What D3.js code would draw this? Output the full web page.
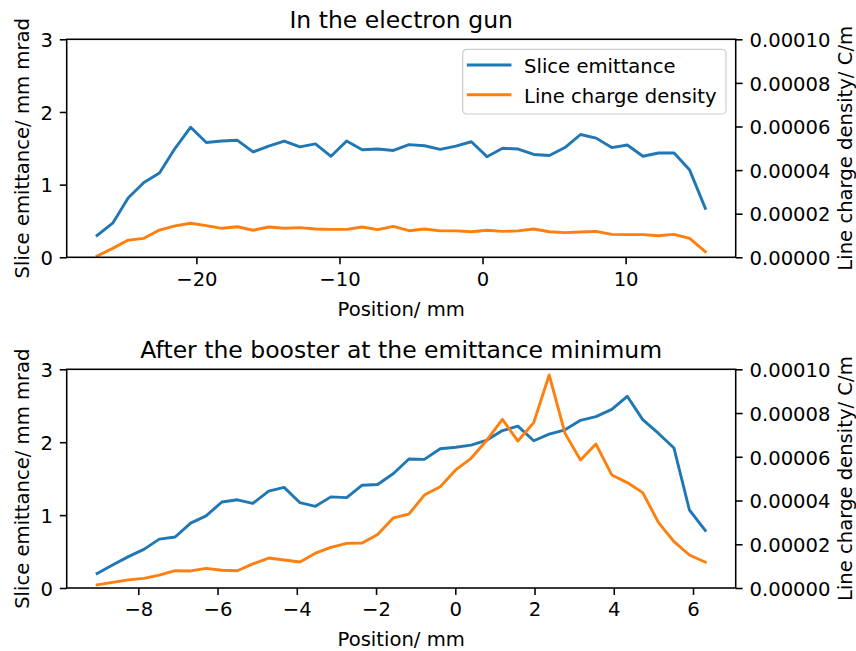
<!DOCTYPE html>
<html>
<head>
<meta charset="utf-8">
<script src="https://cdn.jsdelivr.net/npm/d3@7"></script>
<style>
  html, body { margin: 0; padding: 0; background: #fff; }
  svg { display: block; font-family: "DejaVu Sans", sans-serif; }
</style>
</head>
<body>
<svg id="chart" width="856" height="651"></svg>
<script>
// Slice positions (mm) along the bunch
const gunPosition = [-26.94, -25.85, -24.76, -23.67, -22.58, -21.49, -20.40, -19.31, -18.22, -17.13,
  -16.04, -14.95, -13.86, -12.77, -11.68, -10.59, -9.50, -8.41, -7.32, -6.23,
  -5.14, -4.05, -2.96, -1.87, -0.78, 0.31, 1.40, 2.49, 3.58, 4.67,
  5.76, 6.85, 7.94, 9.03, 10.12, 11.21, 12.30, 13.39, 14.48, 15.57];
// Slice emittance (mm mrad) in the electron gun
const gunEmittance = [0.30, 0.47, 0.82, 1.03, 1.16, 1.50, 1.79, 1.58, 1.60, 1.61,
  1.45, 1.53, 1.60, 1.52, 1.56, 1.39, 1.60, 1.48, 1.49, 1.47,
  1.55, 1.535, 1.485, 1.53, 1.59, 1.385, 1.50, 1.49, 1.415, 1.40,
  1.51, 1.69, 1.64, 1.51, 1.545, 1.39, 1.435, 1.435, 1.20, 0.675];
// Line charge density (C/m) in the electron gun
const gunCharge = [0.06e-5, 0.41e-5, 0.79e-5, 0.87e-5, 1.25e-5, 1.44e-5, 1.56e-5, 1.45e-5, 1.33e-5, 1.40e-5,
  1.24e-5, 1.39e-5, 1.33e-5, 1.36e-5, 1.30e-5, 1.28e-5, 1.28e-5, 1.39e-5, 1.27e-5, 1.42e-5,
  1.22e-5, 1.30e-5, 1.21e-5, 1.21e-5, 1.17e-5, 1.24e-5, 1.19e-5, 1.21e-5, 1.30e-5, 1.17e-5,
  1.13e-5, 1.16e-5, 1.19e-5, 1.05e-5, 1.04e-5, 1.04e-5, 0.99e-5, 1.05e-5, 0.87e-5, 0.26e-5];

const boosterPosition = [-9.04, -8.65, -8.25, -7.86, -7.47, -7.07, -6.68, -6.29, -5.89, -5.50,
  -5.11, -4.71, -4.32, -3.92, -3.53, -3.14, -2.74, -2.35, -1.96, -1.56,
  -1.17, -0.78, -0.38, 0.01, 0.40, 0.80, 1.19, 1.58, 1.98, 2.37,
  2.77, 3.16, 3.55, 3.95, 4.34, 4.73, 5.13, 5.52, 5.91, 6.31];
const boosterEmittance = [0.20, 0.315, 0.43, 0.53, 0.67, 0.70, 0.89, 0.99, 1.18, 1.21,
  1.16, 1.33, 1.38, 1.17, 1.12, 1.25, 1.24, 1.41, 1.42, 1.57,
  1.77, 1.765, 1.91, 1.93, 1.96, 2.03, 2.16, 2.22, 2.02, 2.11,
  2.17, 2.30, 2.35, 2.45, 2.63, 2.31, 2.12, 1.92, 1.07, 0.79];
const boosterCharge = [0.14e-5, 0.26e-5, 0.37e-5, 0.44e-5, 0.59e-5, 0.79e-5, 0.78e-5, 0.90e-5, 0.81e-5, 0.79e-5,
  1.10e-5, 1.37e-5, 1.28e-5, 1.19e-5, 1.59e-5, 1.86e-5, 2.04e-5, 2.06e-5, 2.45e-5, 3.21e-5,
  3.38e-5, 4.25e-5, 4.63e-5, 5.40e-5, 5.93e-5, 6.77e-5, 7.71e-5, 6.72e-5, 7.56e-5, 9.74e-5,
  7.07e-5, 5.85e-5, 6.58e-5, 5.17e-5, 4.82e-5, 4.36e-5, 2.99e-5, 2.12e-5, 1.51e-5, 1.18e-5];

// Tick labels
const gunXTicks = [-20, -10, 0, 10];
const boosterXTicks = [-8, -6, -4, -2, 0, 2, 4, 6];
const emittanceTicks = [0, 1, 2, 3];
const chargeTicks = [0, 2e-5, 4e-5, 6e-5, 8e-5, 1e-4];

const seriesNames = ["Slice emittance", "Line charge density"];
const colors = ["#1f77b4", "#ff7f0e"];

const svg = d3.select("#chart");
const FS = 19.6;           // base font size
const TITLE_FS = 23.5;
const LW = 2.9;            // data line width
const SPINE_W = 1.57;
const TICK_LEN = 6.9;

const left = 66.7, right = 735.7;

const panels = [
  { title: "In the electron gun", x: gunPosition, emit: gunEmittance, charge: gunCharge,
    xticks: gunXTicks, top: 39.3, bottom: 257.3, legend: true },
  { title: "After the booster at the emittance minimum", x: boosterPosition, emit: boosterEmittance,
    charge: boosterCharge, xticks: boosterXTicks, top: 369.3, bottom: 588, legend: false }
];

function autoDomain(values) {
  const [lo, hi] = d3.extent(values);
  const m = (hi - lo) * 0.05;
  return [lo - m, hi + m];
}

function styleAxis(g) {
  g.select(".domain").remove();
  g.selectAll(".tick line").attr("stroke", "#000").attr("stroke-width", SPINE_W);
  g.selectAll(".tick text").attr("fill", "#000").style("font-size", FS + "px")
    .style("font-family", "'DejaVu Sans', sans-serif");
}

panels.forEach(p => {
  const x = d3.scaleLinear().domain(autoDomain(p.x)).range([left, right]);
  const yL = d3.scaleLinear().domain([0, 3]).range([p.bottom, p.top]);
  const yR = d3.scaleLinear().domain([0, 1e-4]).range([p.bottom, p.top]);
  const midX = (left + right) / 2, midY = (p.top + p.bottom) / 2;

  const g = svg.append("g");

  // data lines
  const emitLine = d3.line().x((d, i) => x(p.x[i])).y(d => yL(d));
  const chargeLine = d3.line().x((d, i) => x(p.x[i])).y(d => yR(d));
  g.append("path").datum(p.emit).attr("d", emitLine)
    .attr("fill", "none").attr("stroke", colors[0]).attr("stroke-width", LW)
    .attr("stroke-linejoin", "round").attr("stroke-linecap", "square");
  g.append("path").datum(p.charge).attr("d", chargeLine)
    .attr("fill", "none").attr("stroke", colors[1]).attr("stroke-width", LW)
    .attr("stroke-linejoin", "round").attr("stroke-linecap", "square");

  // axes
  g.append("g").attr("transform", `translate(0,${p.bottom})`)
    .call(d3.axisBottom(x).tickValues(p.xticks).tickFormat(d3.format("d"))
      .tickSize(TICK_LEN).tickPadding(7.6))
    .call(styleAxis);
  g.append("g").attr("transform", `translate(${left},0)`)
    .call(d3.axisLeft(yL).tickValues(emittanceTicks).tickFormat(d3.format("d"))
      .tickSize(TICK_LEN).tickPadding(6.9))
    .call(styleAxis)
    .call(a => a.selectAll(".tick text").attr("dy", "0.37em"));
  g.append("g").attr("transform", `translate(${right},0)`)
    .call(d3.axisRight(yR).tickValues(chargeTicks).tickFormat(d3.format(".5f"))
      .tickSize(TICK_LEN).tickPadding(6.9))
    .call(styleAxis)
    .call(a => a.selectAll(".tick text").attr("dy", "0.37em"));

  // frame
  g.append("rect").attr("x", left).attr("y", p.top)
    .attr("width", right - left).attr("height", p.bottom - p.top)
    .attr("fill", "none").attr("stroke", "#000").attr("stroke-width", SPINE_W);

  // titles and labels
  g.append("text").attr("x", midX).attr("y", p.top - 11.5)
    .attr("text-anchor", "middle").style("font-size", TITLE_FS + "px").attr("fill", "#000")
    .text(p.title);
  g.append("text").attr("x", midX).attr("y", p.bottom + 58.4)
    .attr("text-anchor", "middle").style("font-size", FS + "px").attr("fill", "#000")
    .text("Position/ mm");
  g.append("text").attr("transform", `translate(29,${midY}) rotate(-90)`)
    .attr("text-anchor", "middle").style("font-size", FS + "px").attr("fill", "#000")
    .text("Slice emittance/ mm mrad");
  g.append("text").attr("transform", `translate(851.5,${midY}) rotate(-90)`)
    .attr("text-anchor", "middle").style("font-size", FS + "px").attr("fill", "#000")
    .text("Line charge density/ C/m");

  // legend
  if (p.legend) {
    const boxR = right - 9.7, boxT = p.top + 10;
    const boxW = 263.3, boxH = 64.7;
    const lg = g.append("g").attr("transform", `translate(${boxR - boxW},${boxT})`);
    lg.append("rect").attr("width", boxW).attr("height", boxH).attr("rx", 4).attr("ry", 4)
      .attr("fill", "#fff").attr("fill-opacity", 0.8)
      .attr("stroke", "#cccccc").attr("stroke-width", 1.2);
    seriesNames.forEach((name, i) => {
      const cy = 15.7 + i * 29.7;
      lg.append("line").attr("x1", 5.6).attr("x2", 47.3).attr("y1", cy).attr("y2", cy)
        .attr("stroke", colors[i]).attr("stroke-width", LW).attr("stroke-linecap", "square");
      lg.append("text").attr("x", 61.3).attr("y", cy + 7.9)
        .style("font-size", FS + "px").attr("fill", "#000").text(name);
    });
  }
});
</script>
</body>
</html>
